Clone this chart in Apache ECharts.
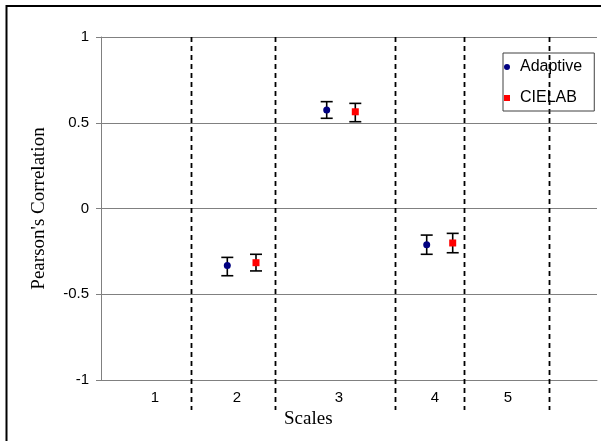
<!DOCTYPE html>
<html>
<head>
<meta charset="utf-8">
<script src="https://cdn.jsdelivr.net/npm/echarts@6/dist/echarts.min.js"></script>
<style>
html,body{margin:0;padding:0;background:#fff;}
#chart{width:601px;height:441px;}
</style>
</head>
<body>
<div id="chart"></div>
<script>
// ---- data ----
var scaleLabels = ['1', '2', '3', '4', '5'];
var scaleLabelPos = [1.04, 1.86, 2.88, 3.84, 4.57];
var separatorPos = [1.397, 2.243, 3.443, 4.133, 4.983];

var adaptiveX = [1.763, 2.757, 3.757];
var adaptiveMean = [-0.333, 0.574, -0.211];
var adaptiveLow = [-0.392, 0.526, -0.267];
var adaptiveHigh = [-0.285, 0.623, -0.155];

var cielabX = [2.050, 3.043, 4.017];
var cielabMean = [-0.316, 0.564, -0.201];
var cielabLow = [-0.364, 0.506, -0.258];
var cielabHigh = [-0.267, 0.613, -0.145];

var sepTop = 1, sepBottom = -1.175;

// ---- chart ----
var chart = echarts.init(document.getElementById('chart'), null, {renderer: 'canvas'});

function pts(xs, ys) { return xs.map(function (x, i) { return [x, ys[i]]; }); }
function errData(xs, lo, hi) { return xs.map(function (x, i) { return [x, lo[i], hi[i]]; }); }

function errRender(params, api) {
  var x = api.value(0);
  var lo = api.coord([x, api.value(1)]);
  var hi = api.coord([x, api.value(2)]);
  var half = 6;
  var st = {stroke: '#000', lineWidth: 1.6};
  return {
    type: 'group',
    children: [
      {type: 'line', shape: {x1: lo[0], y1: lo[1], x2: hi[0], y2: hi[1]}, style: st},
      {type: 'line', shape: {x1: lo[0] - half, y1: lo[1], x2: lo[0] + half, y2: lo[1]}, style: st},
      {type: 'line', shape: {x1: hi[0] - half, y1: hi[1], x2: hi[0] + half, y2: hi[1]}, style: st}
    ]
  };
}

function sepRender(params, api) {
  var x = api.value(0);
  var a = api.coord([x, sepTop]);
  var b = api.coord([x, sepBottom]);
  return {
    type: 'line',
    shape: {x1: Math.round(a[0]) + 0.5, y1: a[1], x2: Math.round(b[0]) + 0.5, y2: b[1]},
    style: {stroke: '#000', lineWidth: 1.8, lineDash: [5, 4]}
  };
}

var sansFont = '"Liberation Sans", Arial, sans-serif';
var serifFont = '"Liberation Serif", "Times New Roman", serif';

var option = {
  animation: false,
  backgroundColor: '#fff',
  graphic: [{
    type: 'rect',
    shape: {x: 6.5, y: 6, width: 700, height: 600},
    style: {fill: 'none', stroke: '#000', lineWidth: 2},
    silent: true,
    z: 100
  }],
  title: {
    text: 'Scales',
    left: 284,
    top: 410,
    padding: 0,
    textStyle: {fontFamily: serifFont, fontSize: 19, fontWeight: 'normal', color: '#000'}
  },
  legend: {
    orient: 'vertical',
    left: 503,
    top: 53,
    padding: [6, 12, 5, 1],
    itemGap: 15,
    itemWidth: 16,
    itemHeight: 6,
    borderColor: '#404040',
    borderWidth: 1,
    backgroundColor: 'transparent',
    textStyle: {fontFamily: sansFont, fontSize: 16, color: '#000'},
    data: [
      {name: 'Adaptive', icon: 'path://M5 0A5 5 0 1 1 4.99 0Z'},
      {name: 'CIELAB', icon: 'path://M0 0H10V10H0Z'}
    ]
  },
  grid: {left: 101, top: 37, width: 496, height: 343},
  xAxis: {
    type: 'value',
    min: 0.5,
    max: 5.46,
    axisLine: {show: true, onZero: false, lineStyle: {color: '#808080', width: 1}},
    axisTick: {show: false},
    splitLine: {show: false},
    axisLabel: {
      show: true,
      customValues: scaleLabelPos,
      margin: 10,
      fontFamily: sansFont,
      fontSize: 15,
      color: '#000',
      formatter: function (v) {
        var best = 0, d = 1e9;
        scaleLabelPos.forEach(function (p, i) { if (Math.abs(p - v) < d) { d = Math.abs(p - v); best = i; } });
        return scaleLabels[best];
      }
    }
  },
  yAxis: {
    type: 'value',
    min: -1,
    max: 1,
    interval: 0.5,
    name: "Pearson's Correlation",
    nameLocation: 'middle',
    nameRotate: 90,
    nameGap: 52,
    nameTextStyle: {fontFamily: serifFont, fontSize: 19, color: '#000'},
    axisLine: {show: true, lineStyle: {color: '#808080', width: 1}},
    axisTick: {show: true, length: 5, inside: false, lineStyle: {color: '#808080'}},
    axisLabel: {margin: 12, fontFamily: sansFont, fontSize: 15, color: '#000',
      formatter: function (v) { return String(v); }},
    splitLine: {show: true, lineStyle: {color: '#808080', width: 1}}
  },
  series: [
    {
      type: 'custom',
      name: 'separators',
      renderItem: sepRender,
      data: separatorPos.map(function (x) { return [x, 0]; }),
      clip: false,
      silent: true,
      z: 1
    },
    {
      type: 'custom',
      name: 'Adaptive error',
      renderItem: errRender,
      data: errData(adaptiveX, adaptiveLow, adaptiveHigh),
      z: 2
    },
    {
      type: 'custom',
      name: 'CIELAB error',
      renderItem: errRender,
      data: errData(cielabX, cielabLow, cielabHigh),
      z: 2
    },
    {
      type: 'scatter',
      name: 'Adaptive',
      symbol: 'circle',
      symbolSize: 7,
      itemStyle: {color: '#000080', opacity: 1},
      data: pts(adaptiveX, adaptiveMean),
      z: 3
    },
    {
      type: 'scatter',
      name: 'CIELAB',
      symbol: 'rect',
      symbolSize: 7,
      itemStyle: {color: '#FF0000', opacity: 1},
      data: pts(cielabX, cielabMean),
      z: 3
    }
  ]
};
chart.setOption(option);
</script>
</body>
</html>
